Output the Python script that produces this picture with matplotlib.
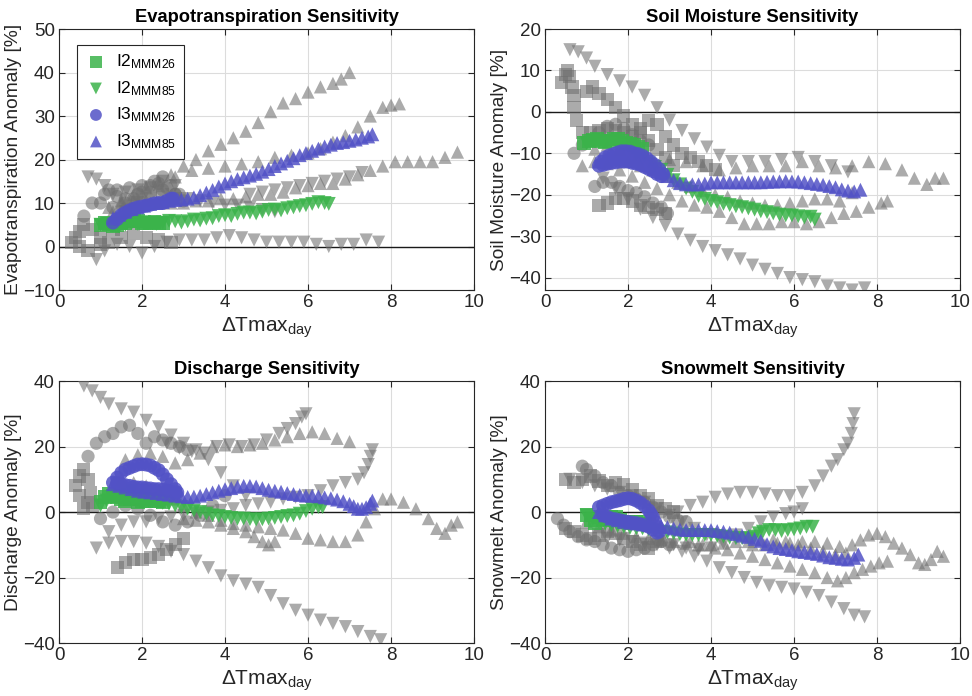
import matplotlib
matplotlib.use("Agg")
import matplotlib.pyplot as plt

plt.rcParams['font.family'] = ['Liberation Sans', 'DejaVu Sans']
plt.rcParams['mathtext.fontset'] = 'custom'
plt.rcParams['mathtext.rm'] = 'Liberation Sans'
plt.rcParams['mathtext.it'] = 'Liberation Sans:italic'
plt.rcParams['mathtext.bf'] = 'Liberation Sans:bold'

GRAY = '#6f6f6f'
GREEN = '#3bb34a'
BLUE = '#5252c6'

# ---------------- Evapotranspiration ----------------
et_a_x = [1.2,1.5,1.8,2.1,2.4,2.7,3.0,3.3,3.6,3.9,4.2,4.5,4.8,5.1,5.4,5.7,6.0,6.3,6.6,6.8,7.0]
et_a_y = [9,10.5,12,13.5,15,16.5,18.5,20,22,23.5,25,26.5,28.5,31,33,34,35.5,36.7,37.5,38.5,40]
et_b_x = [1.3,1.6,2.0,2.4,2.8,3.2,3.6,4.0,4.4,4.8,5.2,5.6,6.0,6.3,6.6,6.9,7.2,7.5,7.8,8.0,8.2]
et_b_y = [8,10,12,14,16,17.5,18,18.5,19,19.5,20.5,21,21.5,22.5,24,25.5,27.5,30,32,32.5,32.8]
et_d_x = [1.5,1.8,2.1,2.4,2.7,3.0,3.3,3.6,3.9,4.2,4.5,4.8,5.1,5.4,5.7,6.0,6.3,6.6,6.9,7.2,7.5,7.8,8.1,8.4,8.7,9.0,9.3,9.6]
et_d_y = [10,10.5,10.5,10,10,10,10.5,10.5,11,11,11.5,12,12,12.5,13.5,14,14.5,14.5,15.5,16.5,17.5,18.5,19.5,19.5,19.5,19.5,20.5,21.7]
et_e_x = [0.9,1.1,1.4,1.7,2.0,2.3,2.6,2.9,3.2,3.5,3.8,4.1,4.4,4.7,5.0,5.3,5.6,5.9,6.2,6.5,6.8,7.1,7.4,7.7]
et_e_y = [-3,-1,0.5,0,-1.5,0,1,1.5,1.5,1.5,2,2.5,2,1.5,1,1,1,1,0.5,0,0.5,0.5,1.5,1]
et_f_x = [0.7,0.9,1.1,1.3,1.6,1.9,2.2,2.5,2.8,3.1,3.4,3.7,4.0,4.3,4.6,4.9,5.2]
et_f_y = [16,15.5,14,12,12.5,13,13.5,15,14,11,10.5,10,9.5,9.5,9,8.5,8]
et_g_x = [4.6,4.9,5.2,5.5,5.8,6.1,6.4,6.7,7.0,7.3]
et_g_y = [12,12.5,13,13.5,14,14.5,15,15.5,16,17]
et_s1_x = [0.3,0.4,0.5,0.6,0.8,1.0,1.2,1.5,1.8,2.1,2.4,2.7]
et_s1_y = [1,2,3.5,5,4,2,1,2,3,2,1.5,1]
et_s2_x = [0.5,0.7,1.0,1.3,1.6,1.9,2.2,2.5,2.8]
et_s2_y = [0,-1,0.5,4,8,10,11,12,11]
et_c1_x = [0.6,0.8,1.1,1.4,1.7,2.0,2.3,2.5,2.7,2.9]
et_c1_y = [7,10,12,13,13.5,14,15,16,14,12]
et_c2_x = [1.0,1.3,1.6,1.9,2.2,2.5,2.8]
et_c2_y = [10,9,11,12,12.5,13,12]
et_c3_x = [1.2,1.4,1.6,1.8,2.0,2.2,2.4,2.6,2.8,3.0]
et_c3_y = [13,11.5,10,11,12.5,14,14.5,13.5,12,10.5]

et_i2_26_x = [1.0,1.1,1.2,1.3,1.4,1.5,1.6,1.7,1.8,1.9,2.0,2.1,2.2,2.3,2.4,2.5]
et_i2_26_y = [5,5.4,5.2,4.8,5,5.3,5.5,5.8,6,5.8,5.5,5.3,5.5,5.6,5.5,5.4]
et_i2_85_x = [1.0,1.15,1.3,1.45,1.6,1.75,1.9,2.05,2.2,2.35,2.5,2.65,2.8,2.95,3.1,3.25,3.4,3.55,3.7,3.85,4.0,4.15,4.3,4.45,4.6,4.75,4.9,5.05,5.2,5.35,5.5,5.65,5.8,5.95,6.1,6.25,6.4,6.5]
et_i2_85_y = [5,5.3,4.8,4.6,5,5.4,5.2,5.6,5.4,5.2,5.5,5.9,5.8,5.5,5.8,6.2,6,6.4,6.5,7,7.2,7,7.5,7.8,7.8,7.6,8,8.4,8.5,8.3,8.8,9,9.3,9.5,9.8,10.2,10,9.8]
et_i3_26_x = [1.3,1.4,1.5,1.6,1.7,1.8,1.9,2.0,2.1,2.2,2.3,2.4,2.5,2.6,2.7,2.75]
et_i3_26_y = [5.5,6.3,7.2,7.8,8.3,8.7,9,9.2,9.4,9.6,9.9,10,10,10.5,11,11]
et_i3_85_x = [1.3,1.45,1.6,1.75,1.9,2.05,2.2,2.35,2.5,2.65,2.8,2.95,3.1,3.25,3.4,3.55,3.7,3.85,4.0,4.15,4.3,4.45,4.6,4.75,4.9,5.05,5.2,5.35,5.5,5.65,5.8,5.95,6.1,6.25,6.4,6.55,6.7,6.85,7.0,7.15,7.3,7.45,7.55]
et_i3_85_y = [6.5,7.3,8,8.6,9,9.4,9.8,10,10.2,10.5,10.7,10.8,11,11.3,11.8,12.4,13,13.8,14.5,15,15.5,15.9,16.3,16.7,17.2,17.8,18.5,19.1,19.7,20.3,21,21.5,22,22.5,23,23.4,23.8,24,24.3,24.6,25,25.3,25.8]

# ---------------- Soil moisture ----------------
sm_t1_x = [0.6,0.8,1.0,1.2,1.5,1.8,2.1,2.4,2.7,3.0,3.3,3.6,3.9,4.2,4.5,4.9,5.3,5.7,6.1,6.5,6.9,7.3]
sm_t1_y = [15,14.5,13,11,9,7.5,6,4,1,-2,-4.5,-6.5,-8.5,-10.5,-12,-12,-12,-11.5,-11,-12,-13,-14.5]
sm_t2_x = [0.9,1.2,1.5,1.8,2.2,2.6,3.0,3.4,3.8,4.2,4.6,5.0,5.4,5.8,6.2,6.6,7.0,7.4,7.8,8.2,8.6,8.9,9.2,9.4,9.6]
sm_t2_y = [-13,-9,-8,-9,-11,-12,-11.5,-12,-13,-14,-13.5,-13,-13,-13,-12,-13,-13.5,-13,-12,-12.5,-14,-16,-17.5,-16,-16]
sm_t3_x = [1.2,1.5,1.8,2.1,2.4,2.7,3.0,3.3,3.6,3.9,4.2,4.5,4.8,5.1,5.4,5.7,6.0,6.3,6.6,6.9,7.2,7.5,7.8,8.1,8.25]
sm_t3_y = [-12,-12.5,-14,-15.5,-17,-18.5,-20,-21.5,-22.5,-23,-24,-25.5,-27,-27,-27,-26.5,-26.5,-27,-26.5,-25.5,-24.5,-24,-23,-22,-21.5]
sm_t4_x = [2.0,2.3,2.6,2.9,3.2,3.5,3.8,4.1,4.4,4.7,5.0,5.3,5.6,5.9,6.2,6.5,6.8,7.1,7.4]
sm_t4_y = [-12,-13,-14,-15.5,-17,-18,-19,-20,-20.5,-21.5,-22,-22.5,-22.5,-22,-21.5,-21,-21,-21.5,-19.5]
sm_t5_x = [1.4,1.7,2.0,2.3,2.6,2.9,3.2,3.5,3.8,4.1,4.4,4.7,5.0,5.3,5.6,5.9,6.2,6.5,6.8,7.1,7.4,7.7]
sm_t5_y = [-16,-18.5,-21,-23.5,-25.5,-27.5,-29.5,-31,-32.5,-33.5,-34.5,-35.5,-37,-38,-39,-40,-40.5,-41,-42,-42.5,-43,-42.5]
sm_q1_x = [0.4,0.5,0.55,0.6,0.65,0.7,0.7,0.75,0.9,1.1,1.3,1.5,1.7,1.9,2.1,2.3,2.5,2.7,2.9,3.1,3.3,3.5,3.7,3.9,4.1]
sm_q1_y = [7,9,10,8.5,6,4,1,-2,-5,-5,-4.5,-4,-4.5,-5,-6,-4,-2,-3,-6,-8,-10,-11,-12,-13,-14]
sm_q2_x = [1.0,1.15,1.3,1.5,1.7,1.9,2.1,2.3,2.5,2.7,2.9,3.1]
sm_q2_y = [5,6,4.5,3,1,-1,-3,-5,-7,-9,-11,-13]
sm_q3_x = [1.3,1.5,1.7,1.9,2.1,2.3,2.5,2.7,2.9]
sm_q3_y = [-22.5,-22,-21,-21,-21.5,-22.5,-23,-23.5,-24.5]
sm_c1_x = [0.7,0.9,1.1,1.3,1.5,1.7,1.9,2.1,2.3,2.5]
sm_c1_y = [-10,-8,-7,-5,-3.5,-3,-4,-5.5,-7,-8]
sm_c2_x = [1.2,1.4,1.6,1.8,2.0,2.2,2.4,2.6,2.8,2.95]
sm_c2_y = [-18,-17,-17,-18,-19,-19.5,-20.5,-22,-23,-24.5]

sm_i2_26_x = [0.95,1.05,1.15,1.25,1.35,1.45,1.55,1.65,1.75,1.85,1.95,2.05,2.15,2.25,2.35]
sm_i2_26_y = [-7.5,-7,-6.8,-6.5,-7,-7.2,-7,-6.6,-6.5,-7,-7.5,-7.8,-8,-8.5,-9]
sm_i2_85_x = [1.0,1.15,1.3,1.45,1.6,1.75,1.9,2.05,2.2,2.35,2.5,2.65,2.8,2.95,3.1,3.25,3.4,3.55,3.7,3.85,4.0,4.15,4.3,4.45,4.6,4.75,4.9,5.05,5.2,5.35,5.5,5.65,5.8,5.95,6.1,6.25,6.4,6.5]
sm_i2_85_y = [-7.5,-7.2,-7,-7,-7,-7.5,-8.3,-9.3,-10.5,-11.5,-12.5,-13.3,-14,-15.2,-16.5,-17.5,-18.5,-19.3,-20.3,-21,-21.5,-21.8,-22.2,-22.5,-22.8,-23,-23.3,-23.6,-24,-24.2,-24.5,-24.8,-25,-25,-25.2,-25.5,-25.3,-26]
sm_i3_26_x = [1.3,1.35,1.45,1.55,1.65,1.75,1.85,1.95,2.05,2.15,2.25,2.35,2.45,2.55,2.65,2.75,2.85,2.8,2.7,2.6,2.5,2.4,2.3,2.2,2.1,2.0,1.9,1.8,1.7,1.6,1.5,1.4]
sm_i3_26_y = [-13,-12,-11,-10.5,-10.2,-9.8,-9.5,-9.5,-9.6,-10,-10.2,-10.6,-11.2,-12,-12.8,-13.8,-15,-15.5,-15,-14.3,-13.8,-13.3,-12.8,-12.5,-12.3,-12,-12,-12,-12.2,-12.3,-12.5,-12.8]
sm_i3_85_x = [1.3,1.45,1.6,1.75,1.9,2.05,2.2,2.35,2.5,2.65,2.8,2.95,3.1,3.25,3.4,3.55,3.7,3.85,4.0,4.15,4.3,4.45,4.6,4.75,4.9,5.05,5.2,5.35,5.5,5.65,5.8,5.95,6.1,6.25,6.4,6.55,6.7,6.85,7.0,7.15,7.3,7.45,7.6]
sm_i3_85_y = [-12,-11.5,-11,-11,-11.2,-11.5,-11.8,-12.2,-12.8,-13.5,-14.5,-15.5,-16.5,-17.2,-17.5,-17.5,-17.5,-17.3,-17,-17,-17,-17,-17,-17,-17,-17,-17,-16.9,-16.8,-16.8,-16.7,-16.8,-16.8,-17,-17.2,-17.4,-17.6,-17.9,-18.2,-18.7,-19,-19.2,-18.8]

# ---------------- Discharge ----------------
dis_d1_x = [0.6,0.8,1.0,1.2,1.5,1.8,2.1,2.4,2.7,3.0,3.3,3.6,3.9,4.2,4.5]
dis_d1_y = [38.5,37,35,33,31.5,30.5,28,26,23.5,21,19,16,12,8,5]
dis_d2_x = [2.6,2.9,3.2,3.5,3.8,4.1,4.4,4.7,5.0,5.3,5.5,5.7,5.85,5.95]
dis_d2_y = [21,19.5,18.5,18,20,20.5,20,20.5,22,24,25.5,27,29,30]
dis_d3_x = [1.6,1.9,2.2,2.5,2.8,3.1,3.4,3.7,4.0,4.3,4.6,4.9,5.2,5.5,5.8,6.1,6.4,6.7,7.0]
dis_d3_y = [16,17.5,18,17,15,16,18,20,20.5,20,20.5,21,22,23,24,24.5,24,22.5,21.5]
dis_d4_x = [1.2,1.5,1.8,2.1,2.4,2.7,3.0,3.3,3.6,3.9,4.2,4.5,4.8,5.1,5.4,5.7,6.0,6.3,6.6,6.9,7.2,7.35,7.45,7.5,7.55]
dis_d4_y = [-6,-4,-3,-3,-2,-1.5,-1,-0.5,0,0.5,1,2,2.5,3,4,4.5,5,6.5,8,9,10,12,14.5,17,19]
dis_d5_x = [1.5,1.8,2.1,2.4,2.7,3.0,3.3,3.6,3.9,4.2,4.5,4.8,5.1,5.4,5.7,6.0,6.3,6.6,6.9,7.2,7.4,7.6,7.8,8.0,8.3,8.6,8.9,9.1,9.3,9.45,9.6]
dis_d5_y = [10,9,8,6.5,4,2,0,-1,-2.5,-3.5,-4,-4.5,-5,-5.5,-6.5,-8,-8.5,-9,-9,-7,-3,1,4,4,3,1,-2,-5,-6.5,-4,-3]
dis_d6_x = [3.0,3.3,3.6,3.9,4.2,4.5,4.7,4.9,5.05,5.2]
dis_d6_y = [-2,-2.5,-3,-4,-5,-6,-7.5,-9,-10,-9]
dis_d7_x = [0.9,1.2,1.5,1.8,2.1,2.4,2.7,3.0,3.3,3.6,3.9,4.2,4.5,4.8,5.1,5.4,5.7,6.0,6.3,6.6,6.9,7.2,7.5,7.75]
dis_d7_y = [-11,-9.5,-9,-9,-9.5,-10.5,-12,-13,-15,-17,-19.5,-21,-22,-23,-25.5,-28,-30,-31.5,-33,-34,-35,-36.5,-38,-39]
dis_q1_x = [0.4,0.5,0.6,0.7,0.75,0.7,0.6,0.5,0.8]
dis_q1_y = [8,11,13,10,6,3,1,5,2]
dis_q2_x = [1.4,1.6,1.8,2.0,2.2,2.4,2.6,2.8,3.0]
dis_q2_y = [-17,-15.5,-14.5,-14.5,-14,-13,-11.5,-10,-8]
dis_c1_x = [0.7,0.9,1.1,1.3,1.5,1.7,1.9,2.1,2.3,2.5,2.7,2.9,3.1]
dis_c1_y = [17,21,23,24,26,26.5,24,21,23,22,21,20,19]
dis_c2_x = [1.0,1.3,1.6,1.9,2.2,2.5,2.8,3.1,3.4,3.7,4.0]
dis_c2_y = [-2,0,2,1,-1,-3,-4,-3,-1,2,5]

dis_i2_26_x = [1.0,1.1,1.2,1.3,1.4,1.5,1.6,1.7,1.8,1.9,2.0,2.1,2.2,2.3,2.4,2.5]
dis_i2_26_y = [3,4.5,5.5,5,4.5,4,3.5,4,4,3,3.5,3.5,4,3.5,3.5,3]
dis_i2_85_x = [1.0,1.15,1.3,1.45,1.6,1.75,1.9,2.05,2.2,2.35,2.5,2.65,2.8,2.95,3.1,3.25,3.4,3.55,3.7,3.85,4.0,4.15,4.3,4.45,4.6,4.75,4.9,5.05,5.2,5.35,5.5,5.65,5.8,5.95,6.1,6.25,6.35]
dis_i2_85_y = [2,3.5,4.5,5,6,6.5,5,4,3.5,3,2.8,2.5,2,1.5,1,0.5,0,-0.5,-1,-1.2,-1.5,-1.8,-2,-2,-2.2,-2.3,-2.2,-2,-1.8,-1.5,-1.2,-1,-0.5,0.3,1,1.5,1.5]
dis_i3_26_x = [1.3,1.4,1.5,1.6,1.7,1.8,1.9,2.0,2.1,2.2,2.3,2.4,2.5,2.6,2.7,2.8,2.85,2.8,2.7,2.6,2.5,2.4,2.3,2.2,2.1,2.0,1.9,1.8,1.7,1.6,1.5,1.4]
dis_i3_26_y = [9,10.5,12,13,13.5,14,14.5,14.6,14.5,14.2,13.5,12.8,11.5,10,8.5,7,6,5.8,6.2,6.5,6.8,7,7,7.2,7.3,7.5,7.5,7.7,8,8.2,8.5,8.8]
dis_i3_85_x = [1.3,1.45,1.6,1.75,1.9,2.05,2.2,2.35,2.5,2.65,2.8,2.95,3.1,3.25,3.4,3.55,3.7,3.85,4.0,4.15,4.3,4.45,4.6,4.75,4.9,5.05,5.2,5.35,5.5,5.65,5.8,5.95,6.1,6.25,6.4,6.55,6.7,6.85,7.0,7.1,7.2,7.3,7.4,7.5,7.55]
dis_i3_85_y = [8.5,8,7.5,7,6.5,6.2,6,5.8,5.5,5.3,5,4.8,4.6,4.7,5,5.5,6,6.5,7,7.3,7.7,8,8,7.8,7.3,6.8,6.5,6.2,5.8,5.5,5.2,5,5,4.8,4.5,4.2,3.8,3.3,2.5,1.8,1,1,1.5,2.5,3.5]

# ---------------- Snowmelt ----------------
sn_s1_x = [3.2,3.5,3.8,4.1,4.4,4.7,5.0,5.3,5.6,5.9,6.2,6.5,6.7,6.9,7.05,7.2,7.3,7.38,7.42,7.45]
sn_s1_y = [0,2,3,4.5,5.5,6,6,5.5,5,5,6,8,11,14,16,19,21,24,27,30]
sn_s2_x = [2.8,3.1,3.4,3.7,4.0,4.3,4.6,4.9,5.2,5.5,5.8,6.0,6.2]
sn_s2_y = [-9,-10,-11,-11.5,-11,-9.5,-7,-5,-3,-1.5,-0.5,0,1]
sn_s3_x = [1.0,1.3,1.6,1.9,2.2,2.5,2.8,3.1,3.4,3.7,4.0,4.3,4.6,4.9,5.2,5.5,5.8,6.1,6.4,6.7,7.0,7.25]
sn_s3_y = [-3,-4.5,-5.5,-6.5,-7.5,-8,-8.5,-9,-9.5,-10,-10,-9.5,-9,-9,-8.5,-8.5,-9,-10,-11,-12,-13,-12.5]
sn_s4_x = [5.0,5.3,5.6,5.9,6.2,6.5,6.8,7.1,7.4,7.6,7.8,8.0,8.2,8.4,8.6,8.8,9.0,9.15,9.3,9.45,9.6]
sn_s4_y = [-10,-10,-9.5,-9.5,-9,-9,-9.5,-10.5,-10,-8.5,-7,-6.5,-7.5,-9.5,-11,-13,-15.5,-16,-14.5,-12,-13.5]
sn_s5_x = [1.5,1.8,2.1,2.4,2.7,3.0,3.3,3.6,3.9,4.2,4.5,4.8,5.1,5.4,5.7,6.0,6.3,6.6,6.9,7.2,7.45,7.7]
sn_s5_y = [-8,-8.5,-9,-9.5,-10,-11,-12,-13.5,-15,-17,-18.5,-20,-21.5,-22.5,-23,-23.5,-24.5,-25.5,-27.5,-29.5,-31.5,-32]
sn_s6_x = [3.5,3.8,4.1,4.4,4.7,5.0,5.3,5.6,5.9,6.2,6.5,6.8,7.05,7.25,7.45,7.65,7.85,8.05,8.25]
sn_s6_y = [-9,-10,-11,-11.5,-12.5,-13.5,-14.5,-15.5,-16.5,-17.5,-18.5,-20,-21,-20,-18.5,-17.5,-16.5,-15.5,-15]
sn_v_x = [0.6,0.9,1.2,1.5,1.8,2.1,2.4,2.7,3.0,3.3,3.6,3.9,4.2]
sn_v_y = [10,9,8,7,6,5,3,1,-1,-3,-5,-7,-8]
sn_q1_x = [0.5,0.7,0.9,1.1,1.3,1.5,1.7,1.9,2.1,2.3,2.5,2.7,2.9,3.1]
sn_q1_y = [10,9,10,11,9.5,8,9,8.5,7,5,4,2,1,0]
sn_q2_x = [0.5,0.7,0.9,1.1,1.3,1.5,1.7,1.9,2.1,2.3,2.5,2.7]
sn_q2_y = [-5,-6,-7,-8,-7,-6,-6.5,-8,-9,-10,-11,-9]
sn_c1_x = [0.9,1.0,1.2,1.4,1.6,1.8,2.0,2.2,2.4,2.6,2.8,3.0,3.2,3.4]
sn_c1_y = [14,13,11,9,8,6,5,4,3,1.5,0,-1.5,-2.5,-3]
sn_c2_x = [0.3,0.45,0.6,0.8,1.0,1.2,1.4,1.6,1.8,2.0,2.2,2.4,2.6,2.8,3.0]
sn_c2_y = [-2,-4,-6,-7.5,-8.5,-9,-10,-11,-11.5,-12,-11.5,-11,-10,-9,-10]

sn_i2_26_x = [1.0,1.1,1.2,1.3,1.4,1.5,1.6,1.7,1.8,1.9,2.0,2.1,2.2,2.3,2.4,2.5]
sn_i2_26_y = [-1,-2.5,-3.5,-1.5,-2,-2.5,-1.5,-1.5,-2.5,-3,-3,-3.5,-3,-3,-3.5,-3.5]
sn_i2_85_x = [1.0,1.15,1.3,1.45,1.6,1.75,1.9,2.05,2.2,2.35,2.5,2.65,2.8,2.95,3.1,3.25,3.4,3.55,3.7,3.85,4.0,4.15,4.3,4.45,4.6,4.75,4.9,5.05,5.15,5.25,5.4,5.55,5.7,5.85,6.0,6.15,6.3,6.45]
sn_i2_85_y = [-1,-2,-3,-3.5,-4,-4.3,-4.5,-4.8,-5,-5,-5.3,-5.6,-6,-6.2,-6.5,-6.8,-7,-7,-7,-7,-7,-7.3,-7.5,-7.8,-8,-8,-8,-7.5,-6.5,-6,-5.5,-5.5,-5.8,-5.5,-5.3,-5,-4.5,-4.5]
sn_i3_26_x = [1.3,1.4,1.5,1.6,1.7,1.8,1.9,2.0,2.1,2.2,2.3,2.4,2.5,2.55,2.6,2.65,2.7,2.75,2.7,2.6,2.5,2.4,2.3,2.2,2.1,2.0,1.9,1.8,1.7,1.6,1.5,1.4]
sn_i3_26_y = [1.5,2,2.5,3,3.3,3.6,4,4.2,4,3.5,2.8,1.8,0.5,-0.5,-1.5,-3,-4.5,-6,-6.3,-5.3,-4.5,-4,-3.7,-3.4,-3.2,-3,-2.8,-2.5,-2.2,-2,-1.5,-1]
sn_i3_85_x = [1.3,1.45,1.6,1.75,1.9,2.05,2.2,2.35,2.5,2.65,2.8,2.95,3.1,3.25,3.4,3.55,3.7,3.85,4.0,4.15,4.3,4.45,4.6,4.75,4.9,5.05,5.2,5.35,5.5,5.65,5.8,5.95,6.1,6.25,6.4,6.55,6.7,6.85,7.0,7.15,7.3,7.45,7.55]
sn_i3_85_y = [0,-1,-2,-2.5,-3,-3.3,-3.5,-3.8,-4,-4,-4.3,-4.6,-5,-5.3,-5.5,-5.5,-5.5,-5.5,-5.5,-5.8,-6,-6.3,-6.7,-7.2,-7.6,-8.2,-8.8,-9.8,-10.5,-11,-11.3,-11.6,-12,-12.2,-12.5,-12.8,-13.3,-13.8,-14,-14.3,-14.5,-14,-13]

labels = [r'I2$_{\mathregular{MMM26}}$', r'I2$_{\mathregular{MMM85}}$',
          r'I3$_{\mathregular{MMM26}}$', r'I3$_{\mathregular{MMM85}}$']


def draw(ax, gray, colored, title, ylabel, ylim, yticks):
    for m, xs, ys in gray:
        ax.scatter(xs, ys, s=90, marker=m, color=GRAY, alpha=0.58,
                   edgecolors='none', zorder=3)
    for (m, c, xs, ys), lab in zip(colored, labels):
        ax.scatter(xs, ys, s=100, marker=m, color=c, alpha=0.85,
                   edgecolors='none', zorder=4, label=lab)
    ax.axhline(0, color='#1a1a1a', lw=1.0, zorder=2)
    ax.set_xlim(0, 10)
    ax.set_ylim(*ylim)
    ax.set_xticks(range(0, 11, 2))
    ax.set_yticks(yticks)
    ax.grid(True, color='#dcdcdc', lw=0.8, zorder=0)
    ax.set_axisbelow(True)
    ax.tick_params(direction='in', length=4, width=0.8, top=True, right=True,
                   labelsize=13.5, colors='#262626', pad=3)
    for sp in ax.spines.values():
        sp.set_color('#262626')
        sp.set_linewidth(0.8)
    ax.set_title(title, fontsize=13.2, fontweight='bold', pad=5)
    ax.set_ylabel(ylabel, fontsize=13.8, color='#262626')
    ax.yaxis.set_label_coords(-0.09, 0.5)
    ax.set_xlabel('ΔTmax$_{\\mathregular{day}}$', fontsize=15, color='#262626', labelpad=3)


fig = plt.figure(figsize=(9.72, 6.96), dpi=100)
ax1 = fig.add_axes([0.0607, 0.5833, 0.4270, 0.3750])
ax2 = fig.add_axes([0.5607, 0.5833, 0.4270, 0.3750])
ax3 = fig.add_axes([0.0607, 0.0761, 0.4270, 0.3764])
ax4 = fig.add_axes([0.5607, 0.0761, 0.4270, 0.3764])

draw(ax1,
     [('^', et_a_x, et_a_y), ('^', et_b_x, et_b_y), ('^', et_d_x, et_d_y),
      ('v', et_e_x, et_e_y), ('v', et_f_x, et_f_y), ('v', et_g_x, et_g_y),
      ('s', et_s1_x, et_s1_y), ('s', et_s2_x, et_s2_y),
      ('o', et_c1_x, et_c1_y), ('o', et_c2_x, et_c2_y), ('o', et_c3_x, et_c3_y)],
     [('s', GREEN, et_i2_26_x, et_i2_26_y), ('v', GREEN, et_i2_85_x, et_i2_85_y),
      ('o', BLUE, et_i3_26_x, et_i3_26_y), ('^', BLUE, et_i3_85_x, et_i3_85_y)],
     'Evapotranspiration Sensitivity', 'Evapotranspiration Anomaly [%]',
     (-10, 50), range(-10, 51, 10))

draw(ax2,
     [('v', sm_t1_x, sm_t1_y), ('^', sm_t2_x, sm_t2_y), ('^', sm_t3_x, sm_t3_y),
      ('^', sm_t4_x, sm_t4_y), ('v', sm_t5_x, sm_t5_y),
      ('s', sm_q1_x, sm_q1_y), ('s', sm_q2_x, sm_q2_y), ('s', sm_q3_x, sm_q3_y),
      ('o', sm_c1_x, sm_c1_y), ('o', sm_c2_x, sm_c2_y)],
     [('s', GREEN, sm_i2_26_x, sm_i2_26_y), ('v', GREEN, sm_i2_85_x, sm_i2_85_y),
      ('o', BLUE, sm_i3_26_x, sm_i3_26_y), ('^', BLUE, sm_i3_85_x, sm_i3_85_y)],
     'Soil Moisture Sensitivity', 'Soil Moisture Anomaly [%]',
     (-43, 20), range(-40, 21, 10))

draw(ax3,
     [('v', dis_d1_x, dis_d1_y), ('v', dis_d2_x, dis_d2_y), ('^', dis_d3_x, dis_d3_y),
      ('v', dis_d4_x, dis_d4_y), ('^', dis_d5_x, dis_d5_y), ('^', dis_d6_x, dis_d6_y),
      ('v', dis_d7_x, dis_d7_y),
      ('s', dis_q1_x, dis_q1_y), ('s', dis_q2_x, dis_q2_y),
      ('o', dis_c1_x, dis_c1_y), ('o', dis_c2_x, dis_c2_y)],
     [('s', GREEN, dis_i2_26_x, dis_i2_26_y), ('v', GREEN, dis_i2_85_x, dis_i2_85_y),
      ('o', BLUE, dis_i3_26_x, dis_i3_26_y), ('^', BLUE, dis_i3_85_x, dis_i3_85_y)],
     'Discharge Sensitivity', 'Discharge Anomaly [%]',
     (-40, 40), range(-40, 41, 20))

draw(ax4,
     [('v', sn_s1_x, sn_s1_y), ('v', sn_s2_x, sn_s2_y), ('^', sn_s3_x, sn_s3_y),
      ('^', sn_s4_x, sn_s4_y), ('v', sn_s5_x, sn_s5_y), ('^', sn_s6_x, sn_s6_y),
      ('v', sn_v_x, sn_v_y),
      ('s', sn_q1_x, sn_q1_y), ('s', sn_q2_x, sn_q2_y),
      ('o', sn_c1_x, sn_c1_y), ('o', sn_c2_x, sn_c2_y)],
     [('s', GREEN, sn_i2_26_x, sn_i2_26_y), ('v', GREEN, sn_i2_85_x, sn_i2_85_y),
      ('o', BLUE, sn_i3_26_x, sn_i3_26_y), ('^', BLUE, sn_i3_85_x, sn_i3_85_y)],
     'Snowmelt Sensitivity', 'Snowmelt Anomaly [%]',
     (-40, 40), range(-40, 41, 20))

leg = ax1.legend(loc='upper left', bbox_to_anchor=(0.043, 0.94), borderaxespad=0,
                 scatterpoints=1, fontsize=12.5, frameon=True, fancybox=False,
                 framealpha=1, edgecolor='#262626', borderpad=0.45,
                 labelspacing=0.45, handletextpad=0.5, handlelength=1.3,
                 markerscale=0.85)
leg.get_frame().set_linewidth(0.8)
for h in leg.legend_handles:
    h.set_alpha(0.85)

fig.savefig('out.png', dpi=100)
